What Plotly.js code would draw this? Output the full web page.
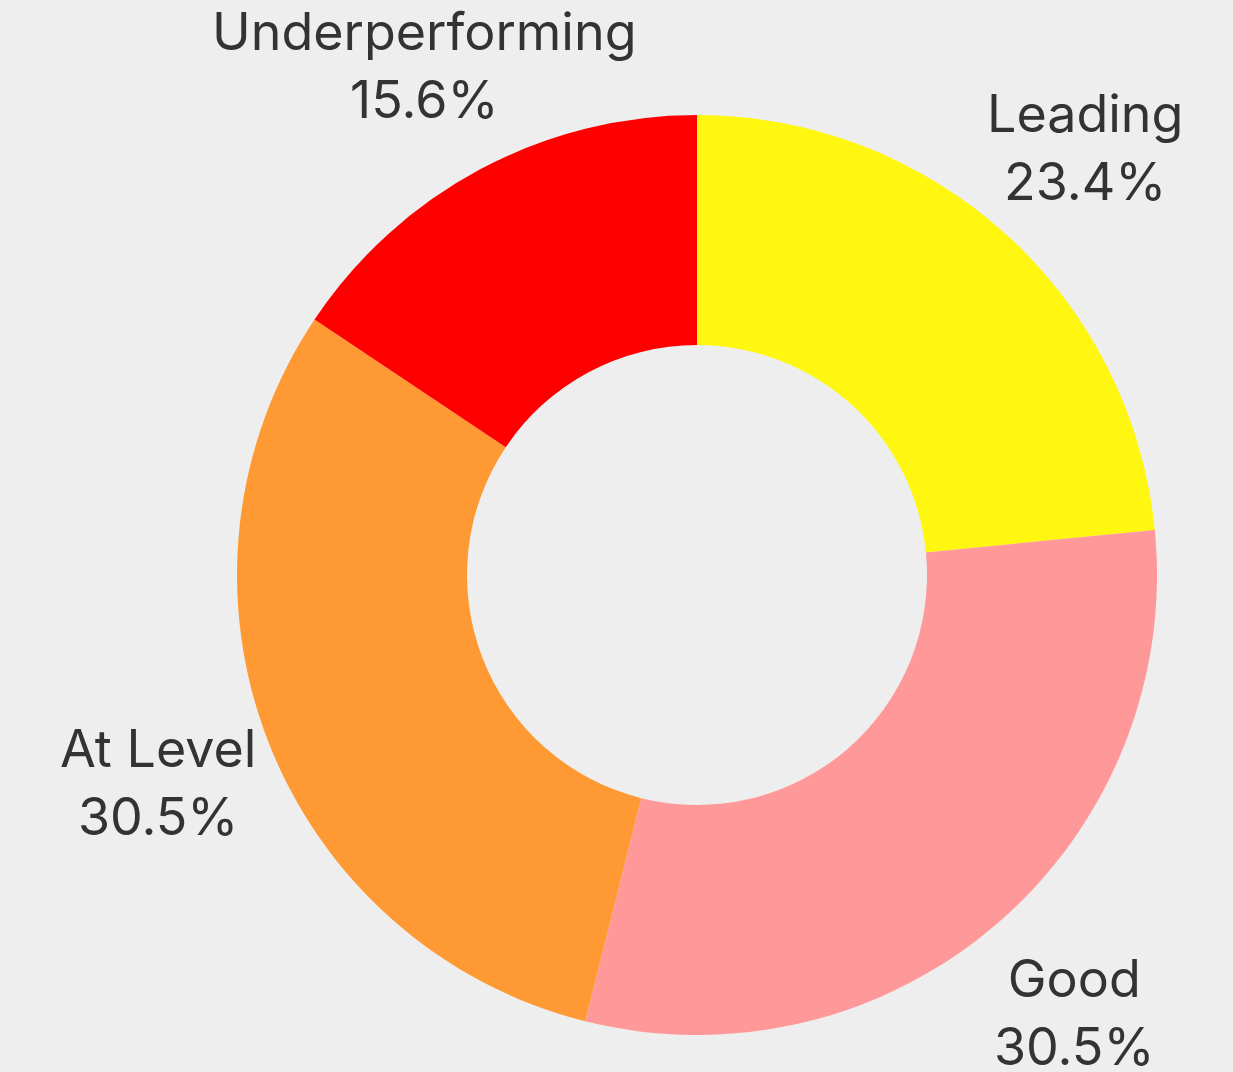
<!DOCTYPE html>
<html>
<head>
<meta charset="utf-8">
<script src="https://cdn.plot.ly/plotly-3.0.1.min.js"></script>
<style>html,body{margin:0;padding:0;background:#eeeeee;}#chart{width:1233px;height:1072px;}</style>
</head>
<body>
<div id="chart"></div>
<script>
const categories = ["Leading", "Good", "At Level", "Underperforming"];
const counts = [30, 39, 39, 20];
const colors = ["#FFF710", "#FF9999", "#FF9933", "#FF0000"];

const W = 1233, H = 1072;
const domX = [0.1922, 0.9384];
const domY = [0.0345, 0.8927];
const labelFont = {family: "Inter, Roboto, sans-serif", size: 52, color: "#333333"};

const trace = {
  type: "pie",
  labels: categories,
  values: counts,
  hole: 0.5,
  sort: false,
  direction: "clockwise",
  rotation: 0,
  marker: {colors: colors, line: {width: 0}},
  textinfo: "none",
  hoverinfo: "label+percent",
  domain: {x: domX, y: domY},
  showlegend: false
};

// Labels centred on each slice's mid-angle, outside the ring (derived from the data)
const total = counts.reduce((a, b) => a + b, 0);
const cx = (domX[0] + domX[1]) / 2 * W;
const cy = (1 - (domY[0] + domY[1]) / 2) * H;
const R = Math.min((domX[1] - domX[0]) * W, (domY[1] - domY[0]) * H) / 2;
const labelR = R * 1.255;
let cum = 0;
const annotations = categories.map((c, i) => {
  const mid = (cum + counts[i] / 2) / total;
  cum += counts[i];
  const th = 2 * Math.PI * mid;
  const px = cx + labelR * Math.sin(th);
  const py = cy - labelR * Math.cos(th);
  return {
    xref: "paper", yref: "paper",
    x: px / W, y: 1 - py / H,
    xanchor: "center", yanchor: "middle",
    text: c + "<br>" + (100 * counts[i] / total).toFixed(1) + "%",
    showarrow: false,
    align: "center",
    font: labelFont
  };
});

const layout = {
  width: W,
  height: H,
  margin: {l: 0, r: 0, t: 0, b: 0},
  paper_bgcolor: "#eeeeee",
  plot_bgcolor: "#eeeeee",
  showlegend: false,
  annotations: annotations
};

Plotly.newPlot("chart", [trace], layout, {displayModeBar: false, staticPlot: true});
</script>
</body>
</html>
